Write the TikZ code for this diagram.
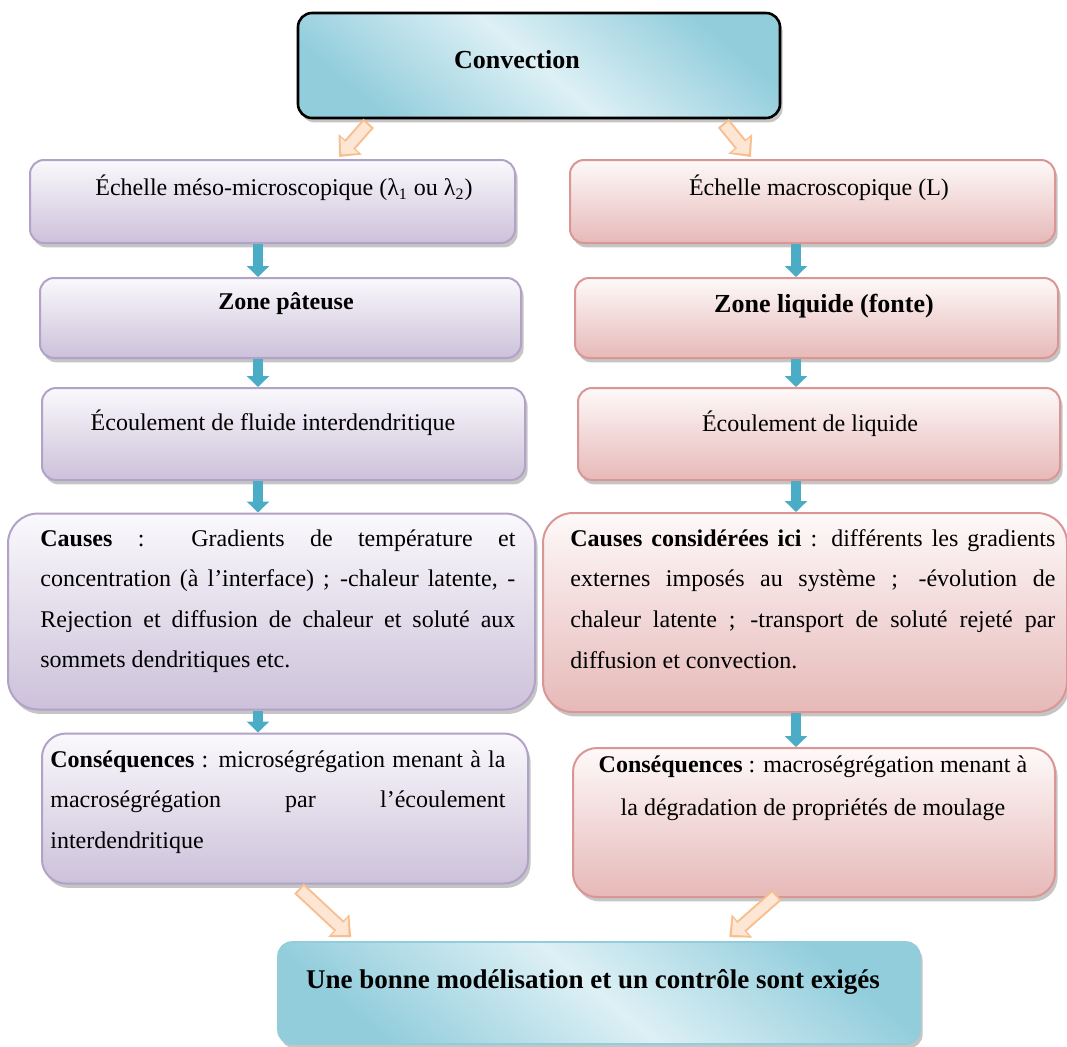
\documentclass[tikz,border=0pt]{standalone}
\usepackage{fontspec}
\setmainfont{Liberation Serif}
\usetikzlibrary{arrows.meta,shadows,calc,positioning}

\definecolor{lavedge}{HTML}{B3A2C7}
\definecolor{lavtop}{HTML}{FAF9FC}
\definecolor{lavbot}{HTML}{CCC1DA}
\definecolor{roseedge}{HTML}{D99694}
\definecolor{rosetop}{HTML}{FEF9F9}
\definecolor{rosebot}{HTML}{E6B9B8}
\definecolor{aquadark}{HTML}{92CDDC}
\definecolor{aqualight}{HTML}{DDF0F5}
\definecolor{arrowblue}{HTML}{4BACC6}
\definecolor{tanedge}{HTML}{F9BE8E}
\definecolor{peach}{HTML}{FDE6D3}

\tolerance=10000
\hbadness=10000

\tikzset{
  box/.style={rounded corners=7pt, line width=1pt,
    drop shadow={shadow xshift=1.3pt, shadow yshift=-2.2pt, fill=black!45}},
  lav/.style={box, draw=lavedge, top color=lavtop, bottom color=lavbot},
  rose/.style={box, draw=roseedge, top color=rosetop, bottom color=rosebot},
  aqua/.style={box, top color=aquadark, bottom color=aquadark, middle color=aqualight, shading angle=-40},
  txt/.style={inner sep=0pt, font=\fontsize{12}{14.4}\selectfont},
  txtb/.style={inner sep=0pt, font=\fontsize{12}{14.4}\selectfont\bfseries},
  para/.style={inner sep=0pt, anchor=north west, align=justify, font=\fontsize{12}{20.3}\selectfont},
  downarrow/.style={draw=arrowblue, line width=5pt, -{Triangle[width=11pt,length=5.5pt]}},
  hollow/.style={draw=tanedge, line width=7pt, -{Triangle[width=15pt,length=8.5pt]},
    postaction={draw=peach, line width=5pt, -{Triangle[width=11.5pt,length=6pt]}, shorten >=1.8pt, shorten <=1pt}}
}

\begin{document}
\begin{tikzpicture}[x=0.5pt, y=-0.5pt]
\useasboundingbox (0,0) rectangle (1067,1046);

% top and bottom boxes
\node[aqua, draw=black, line width=1.3pt, minimum width=241pt, minimum height=52.5pt] (conv) at (539,65.5) {};
\node[aqua, draw=aquadark, line width=0.8pt, minimum width=321pt, minimum height=51pt] (bot) at (599,993) {};

% left column
\node[lav, minimum width=242.5pt, minimum height=41.5pt] (l1) at (272.5,201.5) {};
\node[lav, minimum width=240.5pt, minimum height=40pt] (l2) at (280.5,318) {};
\node[lav, minimum width=241.5pt, minimum height=46pt] (l3) at (283.5,434) {};
\node[lav, rounded corners=15pt, minimum width=263.5pt, minimum height=98pt] (l4) at (271.5,611.5) {};
\node[lav, rounded corners=12pt, minimum width=243pt, minimum height=75pt] (l5) at (285,808.5) {};

% right column
\node[rose, minimum width=242.5pt, minimum height=41.5pt] (r1) at (812.5,201.5) {};
\node[rose, minimum width=241.5pt, minimum height=40pt] (r2) at (816.5,318) {};
\node[rose, minimum width=241pt, minimum height=46pt] (r3) at (819,434) {};
\node[rose, rounded corners=15pt, minimum width=262pt, minimum height=99.5pt] (r4) at (805,612.5) {};
\node[rose, rounded corners=12pt, minimum width=241pt, minimum height=74.5pt] (r5) at (814,822.5) {};

% blue arrows
\coordinate (lx) at (258,0);
\coordinate (rx) at (796,0);
\draw[downarrow] (l1.south -| lx) -- (l2.north -| lx);
\draw[downarrow] (l2.south -| lx) -- (l3.north -| lx);
\draw[downarrow] (l3.south -| lx) -- (l4.north -| lx);
\draw[downarrow] (l4.south -| lx) -- (l5.north -| lx);
\draw[downarrow] (r1.south -| rx) -- (r2.north -| rx);
\draw[downarrow] (r2.south -| rx) -- (r3.north -| rx);
\draw[downarrow] (r3.south -| rx) -- (r4.north -| rx);
\draw[downarrow] (r4.south -| rx) -- (r5.north -| rx);

% orange arrows
\draw[hollow] ($(conv.south west)+(72,4)$) -- ($(l1.north west)+(310,-2)$);
\draw[hollow] ($(conv.south east)+(-58,4)$) -- ($(r1.north west)+(182,-2)$);
\draw[hollow] ($(l5.south west)+(258,4)$) -- ($(bot.north west)+(74,-4)$);
\draw[hollow] ($(r5.south west)+(205,-3)$) -- ($(bot.north west)+(452,-4)$);

% texts
\node[txtb, font=\fontsize{13}{15}\selectfont\bfseries] (convtxt) at (517,60) {Convection};
\node[txt] (l1txt) at (284,188) {Échelle méso-microscopique (λ\textsubscript{1} ou λ\textsubscript{2})};
\node[txt] (r1txt) at (819,188) {Échelle macroscopique (L)};
\node[txtb] (l2txt) at (286,304) {Zone pâteuse};
\node[txtb, font=\fontsize{13}{15}\selectfont\bfseries] (r2txt) at (824,306) {Zone liquide (fonte)};
\node[txt] (l3txt) at (273,423) {Écoulement de fluide interdendritique};
\node[txt] (r3txt) at (810,424) {Écoulement de liquide};
\node[para, text width=237.5pt] (l4txt) at (40,529) {\textbf{Causes} : Gradients de température et\linebreak concentration (à l’interface) ; -chaleur latente, -\linebreak Rejection et diffusion de chaleur et soluté aux\linebreak sommets dendritiques etc.};
\node[para, text width=242.5pt] (r4txt) at (570,529) {\textbf{Causes considérées ici} : différents les gradients\linebreak externes imposés au système ; -évolution de\linebreak chaleur latente ; -transport de soluté rejeté par\linebreak diffusion et convection.};
\node[para, text width=227.5pt] (l5txt) at (50,750) {\textbf{Conséquences} : microségrégation menant à la\linebreak macroségrégation par l’écoulement\linebreak interdendritique};
\node[para, anchor=north, align=center, font=\fontsize{12}{21.5}\selectfont] (r5txt) at (813,755) {\textbf{Conséquences} : macroségrégation menant à\\la dégradation de propriétés de moulage};
\node[txtb, font=\fontsize{13.5}{16}\selectfont\bfseries] (bottxt) at (593,982) {Une bonne modélisation et un contrôle sont exigés};
\end{tikzpicture}
\end{document}
